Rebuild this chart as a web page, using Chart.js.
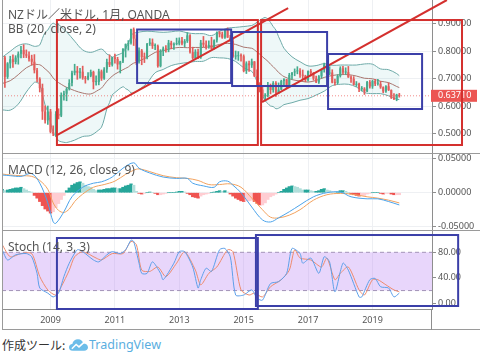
<!DOCTYPE html>
<html><head><meta charset="utf-8">
<script src="https://cdn.jsdelivr.net/npm/chart.js@4.4.1/dist/chart.umd.min.js"></script>
<style>
html,body{margin:0;padding:0;background:#fff;}
#wrap{position:relative;width:480px;height:355px;overflow:hidden;font-family:"Noto Sans","Noto Sans CJK JP",sans-serif;}
canvas{position:absolute;left:0;}
.lbl{position:absolute;left:8px;font-size:12px;line-height:14px;color:#555;white-space:nowrap;z-index:2;font-family:"Noto Sans","Noto Sans CJK JP",sans-serif;}
#footer{position:absolute;left:2px;top:337px;height:16px;font-size:12px;line-height:16px;color:#333;white-space:nowrap;display:flex;align-items:center;font-family:"Noto Sans CJK JP","Noto Sans",sans-serif;}
#footer .tv{color:#5aaee0;font-family:"Noto Sans",sans-serif;font-size:12.5px;}
</style></head><body>
<div id="wrap">
<canvas id="cMain" width="480" height="154" style="top:0"></canvas>
<canvas id="cMacd" width="480" height="77" style="top:154px"></canvas>
<canvas id="cStoch" width="480" height="99" style="top:231px"></canvas>
<div class="lbl" style="top:8px">NZドル／米ドル, 1月, OANDA</div>
<div class="lbl" style="top:22px">BB (20, close, 2)</div>
<div class="lbl" style="top:163px">MACD (12, 26, close, 9)</div>
<div class="lbl" style="top:240px">Stoch (14, 3, 3)</div>
<div id="footer"><span>作成ツール:&nbsp;</span><svg width="19" height="12" viewBox="0 0 20 12" style="margin:0 1px 0 1px"><path d="M4 12 C1 12 0 10 0 8.5 C0 6.5 1.5 5 3.5 5 C4 2 6.5 0 9.5 0 C12.5 0 14.5 2 15 4.5 C17.8 4.5 20 6.3 20 8.5 C20 10.5 18.3 12 16 12 Z" fill="#6cbde9"/><path d="M3 10 L7.5 5.5 L10.5 8 L16 3" stroke="#fff" stroke-width="1.6" fill="none"/></svg><span class="tv">TradingView</span></div>
</div>
<script>
// ---------- DATA ----------
const startYear = 2007, startMonth = 7; // first monthly candle
const opens = [
 .770,.776,.706,.755,.770,.760,
 .776,.790,.804,.788,.783,.772,.761,.730,.698,.665,.580,.548,
 .580,.506,.499,.571,.565,.640,.645,.662,.684,.721,.728,.721,
 .725,.703,.699,.710,.724,.687,.687,.726,.700,.733,.760,.750,
 .777,.771,.751,.762,.808,.825,.829,.879,.845,.762,.802,.778,
 .777,.826,.831,.818,.818,.745,.801,.809,.806,.830,.821,.825,
 .827,.838,.827,.836,.857,.796,.774,.797,.777,.830,.823,.815,
 .822,.808,.839,.868,.861,.849,.876,.849,.836,.780,.781,.784,
 .781,.727,.755,.748,.762,.708,.676,.660,.635,.638,.676,.658,
 .684,.647,.660,.691,.697,.676,.713,.722,.726,.728,.714,.710,
 .694,.727,.719,.700,.686,.708,.732,.751,.718,.722,.685,.684,
 .709,.737,.722,.723,.704,.699,.677,.681,.662,.663,.653,.687,
 .671,.691,.681,.681,.668,.653,.672,.658,.630,.626,.641];
const highs = [
 .817,.781,.758,.781,.786,.783,
 .797,.817,.823,.804,.797,.785,.787,.737,.703,.680,.601,.600,
 .588,.528,.580,.590,.648,.654,.667,.696,.727,.752,.744,.737,
 .745,.708,.722,.731,.727,.710,.734,.731,.740,.771,.786,.777,
 .789,.777,.763,.809,.826,.838,.880,.884,.859,.812,.806,.793,
 .828,.845,.844,.826,.822,.805,.815,.820,.839,.836,.830,.847,
 .848,.850,.842,.867,.860,.814,.805,.807,.839,.853,.837,.837,
 .850,.841,.870,.871,.869,.877,.884,.857,.843,.800,.798,.790,
 .786,.761,.763,.771,.762,.732,.685,.673,.645,.686,.680,.689,
 .689,.684,.694,.700,.697,.719,.722,.735,.743,.736,.731,.712,
 .728,.733,.722,.709,.711,.733,.756,.752,.743,.732,.698,.714,
 .743,.744,.739,.744,.710,.707,.689,.683,.671,.667,.690,.693,
 .694,.697,.697,.690,.670,.674,.684,.659,.645,.643,.646];
const lows = [
 .764,.668,.700,.738,.740,.753,
 .752,.775,.776,.776,.763,.750,.720,.688,.651,.551,.538,.533,
 .502,.492,.489,.553,.561,.621,.619,.658,.673,.713,.697,.701,
 .697,.683,.695,.706,.662,.676,.677,.693,.697,.722,.743,.745,
 .756,.734,.720,.758,.778,.803,.825,.820,.751,.756,.750,.758,
 .771,.820,.809,.805,.741,.742,.783,.796,.797,.808,.806,.822,
 .822,.822,.815,.831,.792,.770,.772,.772,.773,.815,.807,.810,
 .808,.807,.832,.851,.846,.846,.849,.835,.777,.770,.766,.763,
 .724,.718,.726,.740,.707,.676,.651,.620,.621,.633,.644,.650,
 .635,.645,.659,.674,.663,.674,.698,.710,.717,.704,.697,.688,
 .690,.709,.694,.685,.682,.702,.723,.716,.714,.684,.676,.681,
 .705,.718,.715,.704,.686,.676,.671,.652,.655,.642,.652,.665,
 .664,.674,.676,.664,.648,.649,.656,.627,.623,.619,.632];
const closes = [
 .776,.706,.755,.770,.760,.776,
 .790,.804,.788,.783,.772,.761,.730,.698,.665,.580,.548,.580,
 .506,.499,.571,.565,.640,.645,.662,.684,.721,.728,.721,.725,
 .703,.699,.710,.724,.687,.687,.726,.700,.733,.760,.750,.777,
 .771,.751,.762,.808,.825,.829,.879,.845,.762,.802,.778,.777,
 .826,.831,.818,.818,.745,.801,.809,.806,.830,.821,.825,.827,
 .838,.827,.836,.857,.796,.774,.797,.777,.830,.823,.815,.822,
 .808,.839,.868,.861,.849,.876,.849,.836,.780,.781,.784,.781,
 .727,.755,.748,.762,.708,.676,.660,.635,.638,.676,.658,.684,
 .647,.660,.691,.697,.676,.713,.722,.726,.728,.714,.710,.694,
 .727,.719,.700,.686,.708,.732,.751,.718,.722,.685,.684,.709,
 .737,.722,.723,.704,.699,.677,.681,.662,.663,.653,.687,.671,
 .691,.681,.681,.668,.653,.672,.658,.630,.626,.641,.637];
const lastPrice = 0.6371;

const bbDates = ['2007-07','2007-10','2008-01','2008-04','2008-07','2008-08','2008-09','2008-10','2008-11','2008-12',
 '2009-01','2009-02','2009-03','2009-04','2009-05','2009-06','2009-07','2009-10','2010-01','2010-04','2010-07','2010-08',
 '2010-09','2010-10','2010-11','2010-12','2011-01','2011-04','2011-05','2011-06','2011-07','2011-08','2011-09','2011-10',
 '2012-01','2012-04','2012-07','2012-10','2013-01','2013-04','2013-07','2013-10','2014-01','2014-04','2014-07','2014-10',
 '2015-01','2015-04','2015-05','2015-06','2015-07','2015-08','2015-09','2015-10','2015-11','2015-12','2016-01','2016-02',
 '2016-03','2016-04','2016-07','2016-10','2017-01','2017-04','2017-07','2017-10','2018-01','2018-04','2018-07','2018-10',
 '2019-01','2019-04','2019-07','2019-10','2019-11'];
const bbUpper = [.777,.799,.820,.826,.817,.818,.822,.846,.868,.876,
 .893,.901,.896,.896,.888,.878,.870,.836,.804,.795,.805,.807,
 .801,.789,.785,.778,.782,.795,.812,.826,.853,.866,.866,.869,
 .872,.870,.868,.870,.873,.866,.863,.863,.856,.872,.883,.886,
 .889,.893,.898,.905,.912,.918,.922,.916,.904,.889,.876,.852,
 .831,.810,.779,.761,.746,.747,.754,.748,.749,.749,.749,.753,
 .752,.735,.732,.718,.710];
const bbMiddle = [.682,.692,.714,.739,.752,.751,.750,.744,.735,.727,
 .716,.702,.692,.685,.679,.673,.668,.656,.647,.644,.659,.665,
 .677,.690,.699,.709,.716,.732,.737,.742,.750,.756,.759,.764,
 .777,.795,.801,.809,.813,.812,.813,.813,.816,.824,.828,.824,
 .814,.810,.804,.796,.789,.779,.771,.763,.752,.743,.733,.722,
 .714,.707,.696,.691,.687,.693,.704,.711,.714,.714,.709,.701,
 .699,.690,.685,.671,.667];
const bbLower = [.586,.585,.607,.651,.686,.685,.679,.642,.603,.579,
 .539,.504,.489,.474,.470,.468,.467,.476,.489,.493,.513,.523,
 .552,.590,.612,.640,.649,.670,.663,.658,.648,.647,.653,.660,
 .683,.721,.733,.747,.754,.758,.762,.763,.776,.775,.773,.762,
 .739,.726,.710,.688,.665,.640,.619,.609,.600,.598,.590,.592,
 .598,.605,.612,.621,.627,.640,.654,.674,.679,.679,.669,.649,
 .645,.645,.637,.624,.624];

const macdDates = ['2007-07','2007-10','2008-02','2008-06','2008-09','2008-12','2009-02','2009-03','2009-06','2009-09',
 '2010-01','2010-05','2010-08','2010-12','2011-04','2011-08','2011-10','2012-02','2012-07','2012-12','2013-04','2013-06',
 '2013-10','2014-02','2014-04','2014-07','2014-09','2014-12','2015-04','2015-08','2015-11','2016-02','2016-06','2016-10',
 '2017-03','2017-08','2018-01','2018-05','2018-11','2019-03','2019-07','2019-11'];
const macdValues = [.026,.025,.024,.028,.014,-.015,-.043,-.045,-.028,-.006,
 .008,.014,.016,.023,.036,.044,.036,.029,.023,.021,.021,.014,
 .010,.008,.016,.017,.011,.000,-.021,-.040,-.043,-.037,-.028,-.018,
 -.006,.000,.001,-.006,-.009,-.009,-.013,-.018];
const signalDates = ['2007-07','2007-10','2008-02','2008-06','2008-09','2008-12','2009-02','2009-04','2009-06','2009-08',
 '2009-10','2010-01','2010-05','2010-09','2011-01','2011-05','2011-08','2011-10','2012-02','2012-07','2012-12','2013-04',
 '2013-08','2013-12','2014-04','2014-08','2014-12','2015-04','2015-08','2015-11','2016-02','2016-06','2016-10','2017-03',
 '2017-08','2018-01','2018-05','2018-11','2019-03','2019-07','2019-11'];
const signalValues = [.0275,.026,.025,.024,.018,.005,-.015,-.026,-.029,-.024,
 -.013,-.002,.008,.012,.017,.027,.033,.035,.031,.025,.022,.021,
 .018,.012,.012,.013,.008,-.008,-.025,-.036,-.037,-.033,-.025,-.011,
 -.003,-.001,-.002,-.006,-.008,-.011,-.015];
const histValues = [
 .005,.003,.004,.005,.006,.007,
 .007,.008,.006,.004,.002,.001,-.004,-.008,-.013,-.019,-.024,-.027,
 -.030,-.028,-.022,-.016,-.010,-.004,.003,.007,.011,.013,.015,.016,
 .014,.011,.009,.008,.005,.003,.004,.004,.005,.006,.006,.007,
 .007,.006,.006,.008,.010,.011,.013,.011,.002,-.001,-.002,-.001,
 .000,.001,.000,-.001,-.003,-.003,-.002,-.001,.000,.000,.000,.001,
 .002,.002,.001,-.001,-.003,-.006,-.007,-.008,-.005,-.003,-.002,-.001,
 .000,.001,.002,.003,.002,.003,.001,-.002,-.005,-.008,-.010,-.012,
 -.013,-.012,-.012,-.011,-.013,-.016,-.018,-.018,-.015,-.010,-.006,-.004,
 -.002,.000,.002,.005,.007,.009,.010,.009,.008,.006,.004,.004,
 .004,.003,.002,.002,.003,.005,.006,.004,.003,.001,.000,.001,
 .003,.003,.002,.000,-.002,-.003,-.004,-.005,-.004,-.004,-.002,-.001,
 .000,.000,.000,-.001,-.002,-.001,-.001,-.002,-.003,-.003,-.003];

const kDates = ['2007-07','2007-09','2007-12','2008-04','2008-06','2008-08','2008-09','2008-12','2009-02','2009-04',
 '2009-06','2009-08','2009-11','2010-01','2010-05','2010-07','2010-10','2010-12','2011-03','2011-05','2011-07','2011-08',
 '2011-10','2011-11','2012-01','2012-03','2012-06','2012-07','2012-11','2013-01','2013-03','2013-06','2013-08','2013-09',
 '2013-11','2014-01','2014-04','2014-06','2014-08','2014-10','2015-01','2015-04','2015-06','2015-08','2015-11','2016-02',
 '2016-05','2016-07','2016-10','2016-11','2017-02','2017-05','2017-07','2017-09','2017-11','2018-02','2018-04','2018-08',
 '2018-09','2018-12','2019-02','2019-04','2019-07','2019-09','2019-11'];
const kValues = [84,68,76,78,73,47,24,16,10,16,
 42,63,84,81,68,65,76,81,78,84,99,97,
 63,47,47,65,47,37,63,81,81,57,24,37,
 55,50,84,86,73,13,13,21,8,5,31,34,
 47,86,78,63,71,47,73,65,18,63,52,10,
 10,37,39,26,24,10,16];
const dDates = ['2007-07','2007-10','2008-02','2008-06','2008-09','2008-12','2009-03','2009-05','2009-08','2009-10',
 '2010-01','2010-06','2010-08','2010-12','2011-04','2011-07','2011-09','2011-11','2012-02','2012-05','2012-08','2012-12',
 '2013-03','2013-07','2013-09','2013-12','2014-03','2014-07','2014-09','2014-12','2015-03','2015-05','2015-08','2015-11',
 '2016-03','2016-06','2016-08','2016-10','2017-02','2017-06','2017-08','2017-11','2018-01','2018-04','2018-08','2018-10',
 '2019-01','2019-03','2019-06','2019-09','2019-11'];
const dValues = [92,73,78,78,42,21,13,26,52,73,
 81,71,68,78,78,97,92,52,50,57,42,63,
 81,52,29,47,57,84,81,21,13,16,10,26,
 37,52,84,71,68,57,71,37,47,57,21,13,
 37,37,29,21,18];
const stochUpperLevel = 80, stochLowerLevel = 20;

const yearTicks = [2009, 2011, 2013, 2015, 2017, 2019];
const priceTicks = [0.5, 0.6, 0.7, 0.8, 0.9];
const macdTicks = [-0.05, 0, 0.05];
const stochTicks = [0, 40, 80];

// drawings (data coordinates: [x1, y1, x2, y2])
const redBoxes = [[2009.20, 0.4582, 2015.44, 0.9127], [2015.54, 0.4582, 2021.78, 0.9127]];
const redLines = [[2009.20, 0.4945, 2016.38, 0.9564], [2015.57, 0.6145, 2021.31, 0.9855]];
const blueBoxes = [[2011.69, 0.6836, 2014.61, 0.8782], [2014.64, 0.6727, 2017.59, 0.8691], [2017.62, 0.5891, 2020.54, 0.7891]];
const stochBoxes = [[2009.20, -8.9, 2015.44, 102.4], [2015.38, -4.2, 2021.66, 107.1]];

// ---------- helpers ----------
const xMin = 2007.494, xMax = 2020.848;
const months = [];
for (let i = 0; i < closes.length; i++) { const t = startMonth - 1 + i; months.push((startYear + Math.floor(t / 12)) + '-' + String(t % 12 + 1).padStart(2, '0')); }
function toX(s) { const p = s.split('-').map(Number); return p[0] + (p[1] - 1) / 12; }
function pts(dates, vals) { return dates.map((d, i) => ({ x: toX(d), y: vals[i] })); }

const UP = '#45ab8e', DOWN = '#e35d5b';
const AX = '#8e8e8e', GRID = '#eef0f3', TXT = '#555';
const FRAME = '#9a9a9a';
Chart.defaults.font.family = "'Noto Sans', sans-serif";
Chart.defaults.animation = false;

function xScale(showLabels) {
  return {
    type: 'linear', min: xMin, max: xMax, offset: false,
    grid: { color: GRID, drawTicks: false, offset: false },
    border: { display: showLabels, color: AX },
    ticks: { display: showLabels, color: TXT, font: { size: 9 }, padding: 6, callback: v => String(v) },
    afterBuildTicks: s => { s.ticks = yearTicks.map(v => ({ value: v })); },
    afterFit: s => { s.height = showLabels ? 21 : 0; s.paddingLeft = 0; s.paddingRight = 0; }
  };
}
function yScale(min, max, ticks, digits, gridOn) {
  return {
    position: 'right', min: min, max: max,
    grid: { color: gridOn ? GRID : 'rgba(0,0,0,0)', tickColor: AX, tickLength: 4 },
    border: { display: true, color: AX },
    ticks: { color: TXT, font: { size: 9 }, padding: 2, callback: v => Number(v).toFixed(digits) },
    afterBuildTicks: s => { s.ticks = ticks.map(v => ({ value: v })); },
    afterFit: s => { s.width = 48; s.paddingTop = 0; s.paddingBottom = 0; }
  };
}
function strokeBox(ctx, xs, ys, b, color) {
  const x1 = xs.getPixelForValue(b[0]), y1 = ys.getPixelForValue(b[1]);
  const x2 = xs.getPixelForValue(b[2]), y2 = ys.getPixelForValue(b[3]);
  ctx.strokeStyle = color; ctx.lineWidth = 2;
  ctx.strokeRect(Math.min(x1, x2), Math.min(y1, y2), Math.abs(x2 - x1), Math.abs(y2 - y1));
}
function strokeSeg(ctx, xs, ys, l, color) {
  ctx.strokeStyle = color; ctx.lineWidth = 2; ctx.beginPath();
  ctx.moveTo(xs.getPixelForValue(l[0]), ys.getPixelForValue(l[1]));
  ctx.lineTo(xs.getPixelForValue(l[2]), ys.getPixelForValue(l[3]));
  ctx.stroke();
}
function frameLines(ctx, chart, bottomSep) {
  const H = chart.height, W = chart.width;
  ctx.save(); ctx.strokeStyle = FRAME; ctx.lineWidth = 1;
  ctx.beginPath(); ctx.moveTo(2.5, 0); ctx.lineTo(2.5, H); ctx.stroke();
  ctx.beginPath(); ctx.moveTo(2, bottomSep); ctx.lineTo(W, bottomSep); ctx.stroke();
  ctx.restore();
}
const RED = '#d4302e', BLUE = '#3b3fa8';

// ---------- MAIN ----------
new Chart(document.getElementById('cMain'), {
  type: 'bar',
  data: { datasets: [
    { type: 'line', data: pts(bbDates, bbUpper), borderColor: '#6eaaa8', borderWidth: 1, pointRadius: 0, tension: 0.35, fill: '+1', backgroundColor: 'rgba(40,160,170,0.08)', order: 5 },
    { type: 'line', data: pts(bbDates, bbLower), borderColor: '#6eaaa8', borderWidth: 1, pointRadius: 0, tension: 0.35, fill: false, order: 4 },
    { type: 'line', data: pts(bbDates, bbMiddle), borderColor: '#a9766f', borderWidth: 1, pointRadius: 0, tension: 0.35, fill: false, order: 3 },
    { type: 'line', data: [{ x: xMin, y: lastPrice }, { x: xMax, y: lastPrice }], borderColor: 'rgba(235,90,85,0.7)', borderWidth: 1, borderDash: [1, 2], pointRadius: 0, fill: false, order: 2 },
    { type: 'bar', data: months.map((m, i) => ({ x: toX(m), y: [lows[i], highs[i]] })), backgroundColor: c => closes[c.dataIndex] >= opens[c.dataIndex] ? UP : DOWN, barThickness: 1, grouped: false, order: 1 },
    { type: 'bar', data: months.map((m, i) => ({ x: toX(m), y: [opens[i], closes[i]] })), backgroundColor: c => closes[c.dataIndex] >= opens[c.dataIndex] ? UP : DOWN, barPercentage: 0.75, categoryPercentage: 1, minBarLength: 1, grouped: false, order: 0 }
  ]},
  options: {
    responsive: false, devicePixelRatio: 1, animation: false,
    layout: { padding: { left: 2, right: 0, top: 0, bottom: 0 } },
    plugins: { legend: { display: false }, tooltip: { enabled: false } },
    scales: { x: xScale(false), y: yScale(0.4255, 0.9855, priceTicks, 5, true) }
  },
  plugins: [{ id: 'overlayMain', afterDraw(chart) {
    const ctx = chart.ctx, xs = chart.scales.x, ys = chart.scales.y, a = chart.chartArea;
    frameLines(ctx, chart, 153.5);
    // price label
    const py = ys.getPixelForValue(lastPrice);
    ctx.save();
    ctx.fillStyle = '#ec5552'; ctx.fillRect(a.right - 1, py - 6, 46, 12);
    ctx.fillStyle = '#fff'; ctx.font = "9px 'Noto Sans', sans-serif"; ctx.textBaseline = 'middle'; ctx.textAlign = 'left';
    ctx.fillText(lastPrice.toFixed(5), a.right + 6, py);
    redBoxes.forEach(b => strokeBox(ctx, xs, ys, b, RED));
    redLines.forEach(l => strokeSeg(ctx, xs, ys, l, RED));
    blueBoxes.forEach(b => strokeBox(ctx, xs, ys, b, BLUE));
    ctx.restore();
  }}]
});

// ---------- MACD ----------
new Chart(document.getElementById('cMacd'), {
  type: 'bar',
  data: { datasets: [
    { type: 'line', data: pts(macdDates, macdValues), borderColor: '#4ca3ea', borderWidth: 1, pointRadius: 0, tension: 0.35, fill: false, order: 0 },
    { type: 'line', data: pts(signalDates, signalValues), borderColor: '#f2a25e', borderWidth: 1, pointRadius: 0, tension: 0.35, fill: false, order: 1 },
    { type: 'bar', data: months.map((m, i) => ({ x: toX(m), y: histValues[i] })),
      backgroundColor: c => { const i = c.dataIndex, v = histValues[i], p = i > 0 ? histValues[i - 1] : v;
        if (v >= 0) return v >= p ? '#26a69a' : '#b2dfdb'; return v < p ? '#ef5350' : '#ffcdd2'; },
      barPercentage: 1, categoryPercentage: 1, grouped: false, order: 2 }
  ]},
  options: {
    responsive: false, devicePixelRatio: 1, animation: false,
    layout: { padding: { left: 2, right: 0, top: 0, bottom: 0 } },
    plugins: { legend: { display: false }, tooltip: { enabled: false } },
    scales: { x: xScale(false), y: yScale(-0.0563, 0.0569, macdTicks, 5, true) }
  },
  plugins: [{ id: 'overlayMacd', afterDraw(chart) { frameLines(chart.ctx, chart, 76.5); } }]
});

// ---------- STOCH ----------
new Chart(document.getElementById('cStoch'), {
  type: 'line',
  data: { datasets: [
    { data: [{ x: xMin, y: stochUpperLevel }, { x: xMax, y: stochUpperLevel }], borderColor: '#a394b8', borderWidth: 1, borderDash: [4, 3], pointRadius: 0, fill: '+1', backgroundColor: 'rgba(190,140,245,0.36)', order: 5 },
    { data: [{ x: xMin, y: stochLowerLevel }, { x: xMax, y: stochLowerLevel }], borderColor: '#a394b8', borderWidth: 1, borderDash: [4, 3], pointRadius: 0, fill: false, order: 4 },
    { data: pts(dDates, dValues), borderColor: '#ee8a6c', borderWidth: 1, pointRadius: 0, tension: 0.25, fill: false, order: 1 },
    { data: pts(kDates, kValues), borderColor: '#5d9fe9', borderWidth: 1, pointRadius: 0, tension: 0.25, fill: false, order: 0 }
  ]},
  options: {
    responsive: false, devicePixelRatio: 1, animation: false,
    layout: { padding: { left: 2, right: 0, top: 0, bottom: 0 } },
    plugins: { legend: { display: false }, tooltip: { enabled: false } },
    scales: { x: xScale(true), y: yScale(-8.9, 113.4, stochTicks, 2, false) }
  },
  plugins: [{ id: 'overlayStoch', afterDraw(chart) {
    const ctx = chart.ctx, xs = chart.scales.x, ys = chart.scales.y, a = chart.chartArea;
    frameLines(ctx, chart, chart.height - 0.5);
    ctx.save(); ctx.strokeStyle = AX; ctx.lineWidth = 1; ctx.beginPath();
    ctx.moveTo(Math.round(a.right) - 0.5, a.bottom); ctx.lineTo(Math.round(a.right) - 0.5, chart.height); ctx.stroke();
    stochBoxes.forEach(b => strokeBox(ctx, xs, ys, b, BLUE));
    ctx.restore();
  }}]
});
</script>
</body></html>
